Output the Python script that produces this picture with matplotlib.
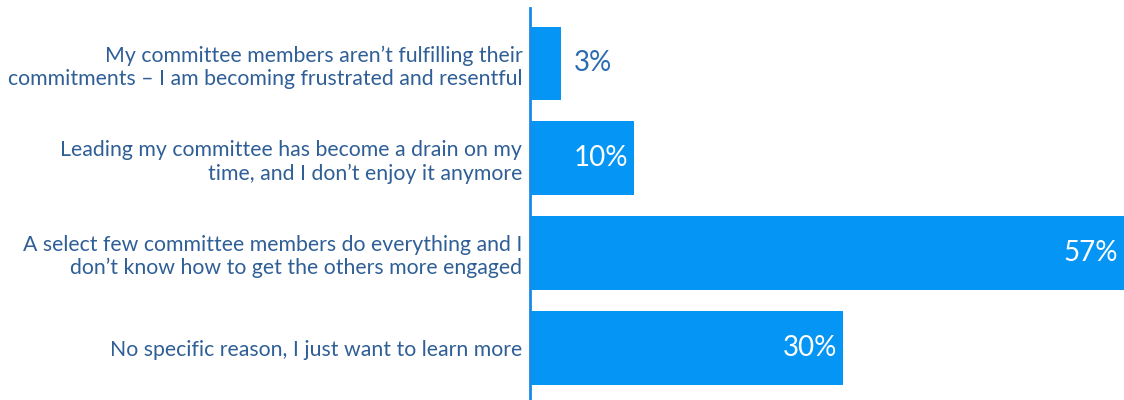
import matplotlib.pyplot as plt

# Survey responses
reasons = [
    "My committee members aren\u2019t fulfilling their\ncommitments \u2013 I am becoming frustrated and resentful",
    "Leading my committee has become a drain on my\ntime, and I don\u2019t enjoy it anymore",
    "A select few committee members do everything and I\ndon\u2019t know how to get the others more engaged",
    "No specific reason, I just want to learn more",
]
percents = [3, 10, 57, 30]

bar_color = "#0596f5"
text_color = "#2f5f96"

plt.rcParams["font.family"] = ["Lato", "DejaVu Sans"]

fig = plt.figure(figsize=(11.24, 4), dpi=100)
ax = fig.add_axes([530 / 1124, 0, 594 / 1124, 392 / 400])

ypos = list(range(len(reasons)))
ax.barh(ypos, percents, height=0.78, color=bar_color)

ax.set_xlim(0, 57)
ax.set_ylim(3.553, -0.586)

# Category labels on the left
ax.set_yticks(ypos)
ax.set_yticklabels(reasons, fontsize=15.3, color=text_color, linespacing=1.2)
ax.tick_params(axis="y", length=0, pad=5.5)
ax.set_xticks([])

for s in ["top", "right", "bottom"]:
    ax.spines[s].set_visible(False)
ax.spines["left"].set_color("#1a8ae8")
ax.spines["left"].set_linewidth(2)

# Value labels: inside the bar when it's wide enough, otherwise just outside
for y, v in zip(ypos, percents):
    label = f"{v}%"
    if v >= 8:
        ax.text(v - 0.55, y, label, ha="right", va="center", color="white",
                fontsize=20)
    else:
        ax.text(v + 1.2, y, label, ha="left", va="center", color="#2b6cb0",
                fontsize=20)

fig.savefig("out.png", dpi=100)
